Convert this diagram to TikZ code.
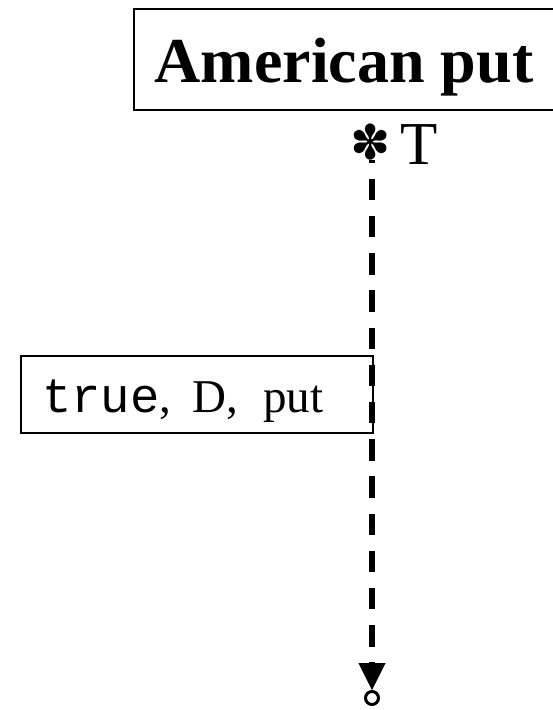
\documentclass[tikz,border=0pt]{standalone}
\usepackage{fontspec}
\setmainfont{Liberation Serif}
\setmonofont{Liberation Mono}
\newfontfamily\dingfont{DejaVu Sans}
\usetikzlibrary{arrows.meta,
                positioning
            }

\tikzset{
    labelbox/.style={draw, line width=2pt, inner sep=0pt},
    lifeline/.style={line width=5.5pt, dash pattern=on 21.5pt off 15.7pt, dash phase=18.5pt,
                     -{Triangle[length=27pt, width=27pt, line width=1pt]}},
}

\begin{document}
\begin{tikzpicture}[x=1pt, y=-1pt]
            \useasboundingbox (0, 0) rectangle (553, 710);
            \node[labelbox, minimum width=420pt, minimum height=101pt, text height=45pt, text depth=0pt] (title) at (344, 59.5)
                {\fontsize{64}{64}\selectfont\bfseries American put};
            \node[inner sep=0pt] (start) at (371, 142) {\dingfont\fontsize{48}{48}\selectfont ✽};
            \node[right=9pt of start.east, anchor=west, inner sep=0pt, yshift=-3pt]
                {\fontsize{61}{61}\selectfont T};
            \node[labelbox, minimum width=352pt, minimum height=77pt, text width=310pt, align=left,
                  text height=35pt, text depth=0pt] (cond) at (197, 394.5)
                {{\ttfamily\fontsize{49}{49}\selectfont true}{\fontsize{47}{47}\selectfont,\hspace{21pt}D,\hspace{25pt}put}};
            \node[draw, circle, line width=3pt, minimum size=13pt, inner sep=0pt] (stop) at (372, 698) {};
            \coordinate (top) at (372, 160);
            \draw[lifeline] (top) -- (stop.north);
        \end{tikzpicture}
\end{document}
